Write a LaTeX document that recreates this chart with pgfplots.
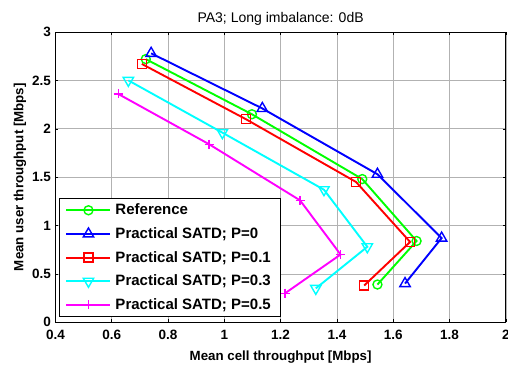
\documentclass[border=0pt]{standalone}
\usepackage{pgfplots}
\pgfplotsset{compat=1.18}
\usepackage{fontspec}
\setmainfont{Liberation Sans}
\usetikzlibrary{calc}

\definecolor{mgreen}{rgb}{0,1,0}
\definecolor{mblue}{rgb}{0,0,1}
\definecolor{mred}{rgb}{1,0,0}
\definecolor{mcyan}{rgb}{0,1,1}
\definecolor{mmagenta}{rgb}{1,0,1}

\newcommand\legfont{\fontsize{15bp}{16bp}\selectfont\bfseries}

\begin{document}
\begin{tikzpicture}
\begin{axis}[
  name=ax,
  scale only axis,
  width=450bp, height=290bp,
  xmin=0.4, xmax=2, ymin=0, ymax=3,
  xtick={0.4,0.6,...,2.01}, ytick={0,0.5,...,3.01},
  xticklabels={0.4,0.6,0.8,1,1.2,1.4,1.6,1.8,2},
  yticklabels={0,0.5,1,1.5,2,2.5,3},
  /pgf/number format/assume math mode=true,
  tick align=inside, tick pos=both,
  major tick length=3bp,
  tick style={black, line width=0.5pt},
  grid=major,
  grid style={gray!60, line width=0.6pt},
  axis line style={black, line width=0.8pt},
  tick label style={font=\fontsize{13.5bp}{14bp}\selectfont\bfseries},
  xticklabel style={yshift=-4bp},
  yticklabel style={xshift=-1bp},
  label style={font=\fontsize{13.3bp}{15bp}\selectfont\bfseries},
  xlabel={Mean cell throughput [Mbps]},
  ylabel={Mean user throughput [Mbps]},
  xlabel style={at={(axis description cs:0.5,0)}, anchor=north, yshift=-25bp},
  ylabel style={yshift=-1bp},
  title={PA3; Long imbalance: 0dB},
  title style={font=\fontsize{14bp}{15bp}\selectfont, yshift=-3bp},
  mark options={solid, line width=1.4pt},
  legend cell align=left,
  legend style={at={(0.008,0.018)}, anchor=south west,
    font=\legfont, nodes={font=\legfont, inner xsep=4bp},
    draw=black, line width=0.8pt, inner xsep=6bp, inner ysep=3.5bp,
    row sep=7.3bp},
  legend image code/.code={%
    \draw[line width=2bp, mark repeat=2, mark phase=2]
      plot coordinates {(0bp,0bp) (22bp,0bp) (44bp,0bp)};},
]
% Reference
\addplot[mgreen, line width=1.9bp, mark=o, mark size=4.5bp] coordinates {
  (0.721,2.72) (1.098,2.15) (1.49,1.48) (1.683,0.84) (1.544,0.39)};
% P = 0
\addplot[mblue, line width=1.9bp, mark=triangle, mark size=6bp] coordinates {
  (0.74,2.78) (1.135,2.21) (1.544,1.53) (1.772,0.87) (1.642,0.40)};
% P = 0.1
\addplot[mred, line width=1.9bp, mark=square, mark size=4.5bp] coordinates {
  (0.707,2.67) (1.076,2.10) (1.468,1.45) (1.66,0.83) (1.497,0.38)};
% P = 0.3
\addplot[mcyan, line width=1.9bp, mark=triangle, mark size=6bp,
  mark options={solid, line width=1.4pt, rotate=180}] coordinates {
  (0.659,2.50) (0.993,1.96) (1.354,1.37) (1.508,0.78) (1.325,0.35)};
% P = 0.5
\addplot[mmagenta, line width=1.9bp, mark=+, mark size=4.5bp] coordinates {
  (0.623,2.36) (0.946,1.84) (1.269,1.26) (1.413,0.70) (1.216,0.30)};
\legend{Reference, {Practical SATD; P=0}, {Practical SATD; P=0.1},
        {Practical SATD; P=0.3}, {Practical SATD; P=0.5}}
\end{axis}
\pgfresetboundingbox
\useasboundingbox ($(ax.south west)+(-55.4bp,-46bp)$) rectangle ($(ax.north east)+(2.2bp,32bp)$);
\end{tikzpicture}
\end{document}
